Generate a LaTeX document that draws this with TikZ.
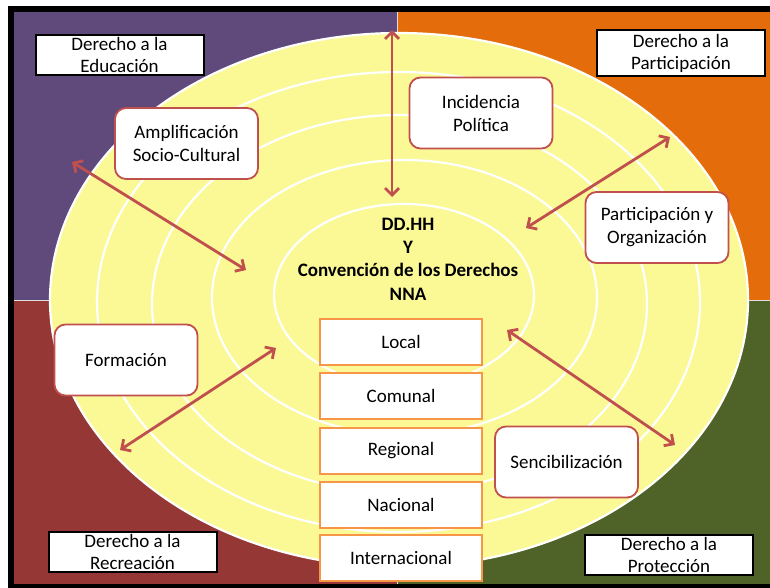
\documentclass[tikz,border=0pt]{standalone}
\usepackage{fontspec}
\setmainfont{Carlito}
\usetikzlibrary{arrows.meta}
\definecolor{qpurple}{RGB}{96,74,123}
\definecolor{qorange}{RGB}{228,108,10}
\definecolor{qred}{RGB}{149,55,53}
\definecolor{qgreen}{RGB}{79,98,40}
\definecolor{ringyellow}{RGB}{251,249,150}
\definecolor{arrowred}{RGB}{192,80,77}
\definecolor{levelorange}{RGB}{247,150,70}
\begin{document}
\begin{tikzpicture}[x=1pt,y=-1pt,
  ring/.style={draw=white, line width=2.2pt, fill=ringyellow},
  rightbox/.style={draw=black, line width=2pt, fill=white, minimum width=168pt, minimum height=40pt, inner sep=0pt, align=center, font=\fontsize{19}{22}\selectfont},
  actbox/.style={draw=arrowred, line width=1.8pt, fill=white, rounded corners=11pt, minimum width=143pt, minimum height=71pt, align=center, inner sep=0pt, font=\fontsize{19}{23}\selectfont},
  levelbox/.style={draw=levelorange, line width=2pt, fill=white, minimum width=162pt, minimum height=46pt, inner sep=0pt, font=\fontsize{19}{23}\selectfont},
  dblarrow/.style={draw=arrowred, line width=2.8pt, {Straight Barb[length=7pt,width=14pt]}-{Straight Barb[length=7pt,width=14pt]}},
  sep/.style={draw=white!75!gray, line width=0.8pt}
]
\useasboundingbox (0,0) rectangle (770,588);
\fill[white] (0,0) rectangle (770,588);
\fill[black] (8,6) rectangle (770,588);
\fill[qpurple] (14,12) rectangle (397,300);
\fill[qorange] (397,12) rectangle (770,300);
\fill[qred] (14,300) rectangle (397,584);
\fill[qgreen] (397,300) rectangle (770,584);
\draw[sep] (397,12) -- (397,584);
\draw[sep] (14,300) -- (770,300);

% rings
\draw[ring] (399,300) ellipse [x radius=349pt, y radius=267pt];
\draw[ring] (398.5,302) ellipse [x radius=301.5pt, y radius=230pt];
\draw[ring] (399.5,304) ellipse [x radius=247.5pt, y radius=189pt];
\draw[ring] (404.5,297.5) ellipse [x radius=192.5pt, y radius=137.5pt];
\draw[ring] (404,295) ellipse [x radius=130pt, y radius=91pt];

% centre text
\node[font=\fontsize{19}{23.3}\selectfont\bfseries, align=center, inner sep=0pt] (core) at (408,259) {DD.HH\\Y\\Convención de los Derechos\\NNA};

% arrow end points
\coordinate (vT) at (392,30);
\coordinate (vB) at (392,197);
\coordinate (amA) at (72,162);
\coordinate (amB) at (246,270);
\coordinate (paA) at (526,228);
\coordinate (paB) at (670,137);
\coordinate (foA) at (276,348);
\coordinate (foB) at (120,450);
\coordinate (seA) at (507,330);
\coordinate (seB) at (675,445);

\draw[dblarrow] (vT) -- (vB);
\draw[dblarrow] (amA) -- (amB);
\draw[dblarrow] (paA) -- (paB);
\draw[dblarrow] (foA) -- (foB);
\draw[dblarrow] (seA) -- (seB);

% level boxes
\node[levelbox] (local) at (401,341.5) {Local};
\node[levelbox] (comunal) at (401,396) {Comunal};
\node[levelbox] (regional) at (401,450.5) {Regional};
\node[levelbox] (nacional) at (401,504.5) {Nacional};
\node[levelbox] (internacional) at (401,558) {Internacional};

% action boxes
\node[actbox] (ampl) at (186.5,143.5) {Amplificación\\Socio-Cultural};
\node[actbox] (inci) at (481,113) {Incidencia\\Política};
\node[actbox] (part) at (657,227.5) {Participación y\\Organización};
\node[actbox] (form) at (126,360) {Formación};
\node[actbox] (sens) at (566.5,462) {Sencibilización};

% rights boxes
\node[rightbox] (edu) at (119.5,55) {Derecho a la\\Educación};
\node[rightbox, minimum height=46pt] (parti) at (681,53) {Derecho a la\\Participación};
\node[rightbox] (recr) at (132.5,552) {Derecho a la\\Recreación};
\node[rightbox] (prot) at (669,555) {Derecho a la\\Protección};
\end{tikzpicture}
\end{document}
